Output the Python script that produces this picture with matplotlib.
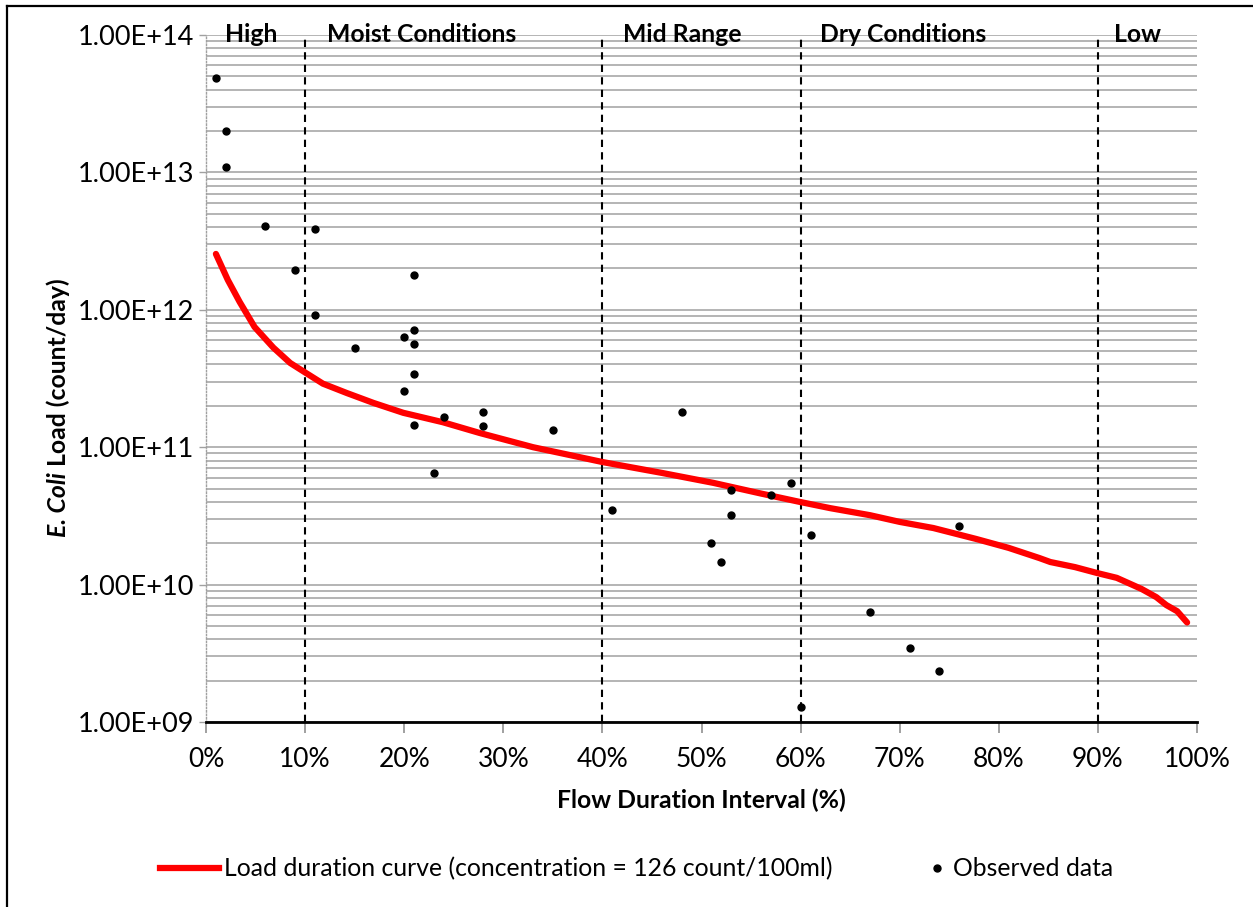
import matplotlib
matplotlib.use('Agg')
import matplotlib.pyplot as plt
import numpy as np
from matplotlib import rcParams
from matplotlib.ticker import FuncFormatter, LogLocator, MultipleLocator, NullFormatter
from matplotlib.lines import Line2D

rcParams['font.family'] = ['Lato', 'DejaVu Sans']

# load duration curve (concentration = 126 count/100ml)
curve_x = [1, 2.2, 3.4, 4.9, 6.8, 8.5, 10, 11.8, 14.2, 16.9, 19.9, 23.9, 27.6, 33, 40,
           46, 51.2, 56, 59.9, 63, 67, 70, 73.4, 77.7, 81, 84.1, 85.2, 87.7, 90,
           91.9, 94.4, 95.9, 96.9, 98, 99]
curve_y = [2.55e12, 1.65e12, 1.14e12, 7.5e11, 5.3e11, 4.1e11, 3.5e11, 2.9e11, 2.48e11,
           2.1e11, 1.78e11, 1.52e11, 1.27e11, 1.0e11, 7.8e10, 6.5e10, 5.5e10, 4.6e10,
           4.0e10, 3.6e10, 3.2e10, 2.86e10, 2.58e10, 2.15e10, 1.85e10, 1.56e10, 1.46e10,
           1.34e10, 1.21e10, 1.12e10, 9.3e9, 8.1e9, 7.1e9, 6.4e9, 5.3e9]

# observed data
obs_x = [1, 2, 2, 6, 11, 9, 21, 11, 21, 20, 21, 15, 21, 20, 24, 28, 28, 21, 35, 23,
         48, 41, 53, 57, 59, 53, 51, 52, 61, 76, 67, 71, 74, 60]
obs_y = [4.9e13, 2.0e13, 1.1e13, 4.1e12, 3.9e12, 1.95e12, 1.79e12, 9.2e11, 7.1e11,
         6.3e11, 5.6e11, 5.3e11, 3.4e11, 2.57e11, 1.66e11, 1.8e11, 1.43e11, 1.45e11,
         1.33e11, 6.5e10, 1.8e11, 3.5e10, 4.9e10, 4.5e10, 5.5e10, 3.2e10, 2.0e10,
         1.46e10, 2.3e10, 2.67e10, 6.3e9, 3.46e9, 2.35e9, 1.29e9]

zone_bounds = [10, 40, 60, 90]
zone_names = ['High', 'Moist Conditions', 'Mid Range', 'Dry Conditions', 'Low']
zone_label_x = [1.9, 12.2, 42.1, 62.0, 91.6]

fig = plt.figure(figsize=(12.53, 9.07), dpi=100)
ax = fig.add_axes([206/1253, 1-722/907, (1197-206)/1253, (722-35)/907])

# chart border (only left and top visible)
fig.add_artist(Line2D([7/1253, 7/1253], [0, 1-6/907], transform=fig.transFigure, color='black', lw=1.6))
fig.add_artist(Line2D([7/1253, 1], [1-6/907, 1-6/907], transform=fig.transFigure, color='black', lw=1.6))

ax.set_yscale('log')
ax.set_xlim(0, 100)
ax.set_ylim(1e9, 1e14)

ax.yaxis.set_major_locator(LogLocator(base=10, numticks=10))
ax.yaxis.set_minor_locator(LogLocator(base=10, subs=np.arange(2, 10), numticks=20))
ax.yaxis.set_major_formatter(FuncFormatter(lambda v, p: f'{v:.2E}'))
ax.yaxis.set_minor_formatter(NullFormatter())
ax.xaxis.set_major_locator(MultipleLocator(10))
ax.xaxis.set_major_formatter(FuncFormatter(lambda v, p: f'{v:.0f}%'))

ax.grid(True, which='both', axis='y', color='#b4b4b4', lw=1.4)
ax.set_axisbelow(True)

for s in ['top', 'right']:
    ax.spines[s].set_visible(False)
ax.spines['left'].set_color('#a0a0a0')
ax.spines['left'].set_linestyle((0, (1, 1.5)))
ax.spines['left'].set_linewidth(1)
ax.spines['bottom'].set_color('black')
ax.spines['bottom'].set_linewidth(2)
ax.spines['bottom'].set_zorder(5)

ax.tick_params(axis='y', which='major', length=5, width=1, color='#a0a0a0', labelsize=19.5, pad=3.5)
ax.tick_params(axis='y', which='minor', length=0)
ax.tick_params(axis='x', length=8, width=1.2, color='#909090', labelsize=19, pad=10)

for b in zone_bounds:
    ax.axvline(b, color='black', lw=1.5, ls=(0, (3.5, 2.5)), zorder=3)

for name, xl in zip(zone_names, zone_label_x):
    ax.text(xl, 1e14, name, ha='left', va='center', fontsize=17.8, fontweight='bold', zorder=6)

ax.plot(curve_x, curve_y, color='#ff0000', lw=4.5, solid_capstyle='round', zorder=4)
ax.plot(obs_x, obs_y, 'o', color='black', ms=5, zorder=5)

ax.set_xlabel('Flow Duration Interval (%)', fontsize=17.8, fontweight='bold', labelpad=12)

# y label: "E. Coli" bold italic, rest bold
t1 = fig.text(58/1253, 1-537/907, 'E. Coli', rotation=90, ha='center', va='bottom',
              fontsize=17.8, fontweight='bold', fontstyle='italic')
fig.canvas.draw()
bb = t1.get_window_extent()
y2 = bb.y1 / fig.bbox.height + 6/907
fig.text(58/1253, y2, 'Load (count/day)', rotation=90, ha='center', va='bottom',
         fontsize=17.8, fontweight='bold')

h1 = Line2D([], [], color='#ff0000', lw=4.5)
h2 = Line2D([], [], color='black', marker='o', ms=5, ls='none')
fig.legend([h1], ['Load duration curve (concentration = 126 count/100ml)'],
           loc='center left', bbox_to_anchor=(160/1253, 1-869/907), frameon=False,
           fontsize=17.8, handlelength=2.4, handletextpad=0.18, borderpad=0, borderaxespad=0)
fig.legend([h2], ['Observed data'],
           loc='center left', bbox_to_anchor=(927/1253, 1-869/907), frameon=False,
           fontsize=17.8, handlelength=0.8, handletextpad=0.25, borderpad=0, borderaxespad=0)

fig.savefig('out.png', dpi=100, facecolor='white')
